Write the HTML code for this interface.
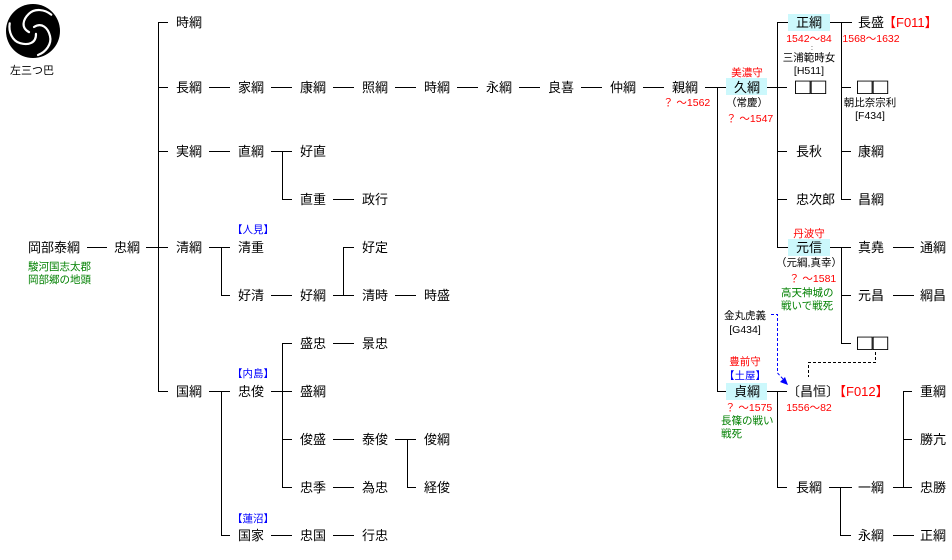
<!DOCTYPE html>
<html><head><meta charset="utf-8">
<style>
html,body{margin:0;padding:0;background:#fff;}
svg{display:block;}
text{font-family:"Liberation Sans","Noto Sans CJK JP",sans-serif;}
.n{font-size:13px;fill:#000;}
.s{font-size:10.5px;}
.r{fill:#f00;}
.g{fill:#008000;}
.b{fill:#00f;}
.k{fill:#000;}
.bx{font-size:14px;}
</style></head><body>
<svg width="952" height="560" viewBox="0 0 952 560" xmlns="http://www.w3.org/2000/svg">
<circle cx="33" cy="31" r="27" fill="#000"/>
<g fill="none" stroke="#fff" stroke-width="2.2" stroke-linecap="round">
<path d="M34,27 C42,22 48,28 50,36 C52,44 46,52 38,55"/>
<path d="M34,27 C42,22 48,28 50,36 C52,44 46,52 38,55" transform="rotate(120 33 31)"/>
<path d="M34,27 C42,22 48,28 50,36 C52,44 46,52 38,55" transform="rotate(240 33 31)"/>
</g>
<text x="10" y="74" class="k" font-size="11">左三つ巴</text>

<rect x="726" y="78" width="41" height="17" fill="#ccf8fc"/>
<rect x="788" y="14" width="42" height="17" fill="#ccf8fc"/>
<rect x="788" y="239" width="42" height="17" fill="#ccf8fc"/>
<rect x="726" y="383" width="41" height="17" fill="#ccf8fc"/>

<g stroke="#000" stroke-width="1" fill="none" shape-rendering="crispEdges">
<line x1="87" y1="247.5" x2="107" y2="247.5"/>
<line x1="146" y1="247.5" x2="158" y2="247.5"/>
<line x1="158.5" y1="22" x2="158.5" y2="391"/>
<line x1="158" y1="22.5" x2="168" y2="22.5"/>
<line x1="158" y1="87.5" x2="168" y2="87.5"/>
<line x1="158" y1="151.5" x2="168" y2="151.5"/>
<line x1="158" y1="247.5" x2="168" y2="247.5"/>
<line x1="158" y1="391.5" x2="168" y2="391.5"/>
<line x1="209" y1="87.5" x2="230" y2="87.5"/>
<line x1="271" y1="87.5" x2="292" y2="87.5"/>
<line x1="333" y1="87.5" x2="354" y2="87.5"/>
<line x1="395" y1="87.5" x2="416" y2="87.5"/>
<line x1="457" y1="87.5" x2="478" y2="87.5"/>
<line x1="519" y1="87.5" x2="540" y2="87.5"/>
<line x1="581" y1="87.5" x2="602" y2="87.5"/>
<line x1="643" y1="87.5" x2="664" y2="87.5"/>
<line x1="209" y1="151.5" x2="230" y2="151.5"/>
<line x1="271" y1="151.5" x2="292" y2="151.5"/>
<line x1="282.5" y1="151" x2="282.5" y2="199"/>
<line x1="282" y1="199.5" x2="292" y2="199.5"/>
<line x1="333" y1="199.5" x2="354" y2="199.5"/>
<line x1="209" y1="247.5" x2="230" y2="247.5"/>
<line x1="221.5" y1="247" x2="221.5" y2="295"/>
<line x1="221" y1="295.5" x2="230" y2="295.5"/>
<line x1="271" y1="295.5" x2="292" y2="295.5"/>
<line x1="333" y1="295.5" x2="354" y2="295.5"/>
<line x1="343.5" y1="247" x2="343.5" y2="295"/>
<line x1="343" y1="247.5" x2="354" y2="247.5"/>
<line x1="395" y1="295.5" x2="416" y2="295.5"/>
<line x1="209" y1="391.5" x2="230" y2="391.5"/>
<line x1="221.5" y1="391" x2="221.5" y2="535"/>
<line x1="221" y1="535.5" x2="230" y2="535.5"/>
<line x1="271" y1="535.5" x2="292" y2="535.5"/>
<line x1="333" y1="535.5" x2="354" y2="535.5"/>
<line x1="271" y1="391.5" x2="292" y2="391.5"/>
<line x1="282.5" y1="343" x2="282.5" y2="487"/>
<line x1="282" y1="343.5" x2="292" y2="343.5"/>
<line x1="282" y1="439.5" x2="292" y2="439.5"/>
<line x1="282" y1="487.5" x2="292" y2="487.5"/>
<line x1="333" y1="343.5" x2="354" y2="343.5"/>
<line x1="333" y1="439.5" x2="354" y2="439.5"/>
<line x1="333" y1="487.5" x2="354" y2="487.5"/>
<line x1="395" y1="439.5" x2="416" y2="439.5"/>
<line x1="407.5" y1="439" x2="407.5" y2="487"/>
<line x1="407" y1="487.5" x2="416" y2="487.5"/>
<line x1="705" y1="87.5" x2="726" y2="87.5"/>
<line x1="717.5" y1="87" x2="717.5" y2="391"/>
<line x1="717" y1="391.5" x2="726" y2="391.5"/>
<line x1="767" y1="87.5" x2="787" y2="87.5"/>
<line x1="777.5" y1="22" x2="777.5" y2="247"/>
<line x1="777" y1="22.5" x2="788" y2="22.5"/>
<line x1="777" y1="151.5" x2="787" y2="151.5"/>
<line x1="777" y1="199.5" x2="787" y2="199.5"/>
<line x1="777" y1="247.5" x2="788" y2="247.5"/>
<line x1="830" y1="22.5" x2="852" y2="22.5"/>
<line x1="841.5" y1="22" x2="841.5" y2="199"/>
<line x1="841" y1="87.5" x2="851" y2="87.5"/>
<line x1="841" y1="151.5" x2="851" y2="151.5"/>
<line x1="841" y1="199.5" x2="851" y2="199.5"/>
<line x1="830" y1="247.5" x2="851" y2="247.5"/>
<line x1="841.5" y1="247" x2="841.5" y2="343"/>
<line x1="841" y1="295.5" x2="851" y2="295.5"/>
<line x1="841" y1="343.5" x2="851" y2="343.5"/>
<line x1="893" y1="247.5" x2="914" y2="247.5"/>
<line x1="893" y1="295.5" x2="914" y2="295.5"/>
<line x1="767" y1="391.5" x2="787" y2="391.5"/>
<line x1="777.5" y1="391" x2="777.5" y2="487"/>
<line x1="777" y1="487.5" x2="787" y2="487.5"/>
<line x1="829" y1="487.5" x2="852" y2="487.5"/>
<line x1="840.5" y1="487" x2="840.5" y2="535"/>
<line x1="840" y1="535.5" x2="851" y2="535.5"/>
<line x1="893" y1="535.5" x2="914" y2="535.5"/>
<line x1="893" y1="487.5" x2="912" y2="487.5"/>
<line x1="903.5" y1="391" x2="903.5" y2="487"/>
<line x1="903" y1="391.5" x2="912" y2="391.5"/>
<line x1="903" y1="439.5" x2="912" y2="439.5"/>
</g>
<path d="M875.5,352 V362.5 H808.5 V377" stroke="#000" stroke-dasharray="3,2" fill="none" shape-rendering="crispEdges"/>
<path d="M771,314.5 H777.5 V373 L784,380" stroke="#00f" stroke-dasharray="3,2" fill="none"/>
<polygon points="788,385 780,382 785,377" fill="#00f"/>

<g class="n">
<text x="28" y="252">岡部泰綱</text>
<text x="114" y="252">忠綱</text>
<text x="176" y="27">時綱</text>
<text x="176" y="92">長綱</text>
<text x="176" y="156">実綱</text>
<text x="176" y="252">清綱</text>
<text x="176" y="396">国綱</text>
<text x="238" y="92">家綱</text>
<text x="300" y="92">康綱</text>
<text x="362" y="92">照綱</text>
<text x="424" y="92">時綱</text>
<text x="486" y="92">永綱</text>
<text x="548" y="92">良喜</text>
<text x="610" y="92">仲綱</text>
<text x="672" y="92">親綱</text>
<text x="238" y="156">直綱</text>
<text x="300" y="156">好直</text>
<text x="300" y="204">直重</text>
<text x="362" y="204">政行</text>
<text x="238" y="252">清重</text>
<text x="238" y="300">好清</text>
<text x="300" y="300">好綱</text>
<text x="362" y="252">好定</text>
<text x="362" y="300">清時</text>
<text x="424" y="300">時盛</text>
<text x="238" y="396">忠俊</text>
<text x="300" y="348">盛忠</text>
<text x="362" y="348">景忠</text>
<text x="300" y="396">盛綱</text>
<text x="300" y="444">俊盛</text>
<text x="362" y="444">泰俊</text>
<text x="424" y="444">俊綱</text>
<text x="300" y="492">忠季</text>
<text x="362" y="492">為忠</text>
<text x="424" y="492">経俊</text>
<text x="238" y="540">国家</text>
<text x="300" y="540">忠国</text>
<text x="362" y="540">行忠</text>
<text x="734" y="92">久綱</text>
<text x="796" y="27">正綱</text>
<text x="858" y="27">長盛</text>
<text x="796" y="156">長秋</text>
<text x="858" y="156">康綱</text>
<text x="796" y="204">忠次郎</text>
<text x="858" y="204">昌綱</text>
<text x="796" y="252">元信</text>
<text x="858" y="252">真堯</text>
<text x="920" y="252">通綱</text>
<text x="858" y="300">元昌</text>
<text x="920" y="300">綱昌</text>
<text x="734" y="396">貞綱</text>
<text x="787" y="396">〔昌恒〕</text>
<text x="920" y="396">重綱</text>
<text x="920" y="444">勝亢</text>
<text x="796" y="492">長綱</text>
<text x="858" y="492">一綱</text>
<text x="920" y="492">忠勝</text>
<text x="858" y="540">永綱</text>
<text x="920" y="540">正綱</text>
</g>
<g class="bx">
<text transform="translate(795,94) scale(1.85,1.6)">□□</text>
<text transform="translate(857,94) scale(1.85,1.6)">□□</text>
<text transform="translate(857,350) scale(1.85,1.6)">□□</text>
</g>
<text x="883" y="27" class="r" font-size="13">【F011】</text>
<text x="833" y="396" class="r" font-size="13">【F012】</text>

<g class="s">
<text x="28" y="270" class="g">駿河国志太郡</text>
<text x="28" y="283" class="g">岡部郷の地頭</text>
<text x="232" y="233" class="b">【人見】</text>
<text x="232" y="377" class="b">【内島】</text>
<text x="232" y="522" class="b">【蓮沼】</text>
<text x="663" y="106" class="r">？ ～1562</text>
<text x="747" y="76" class="r" text-anchor="middle">美濃守</text>
<text x="747" y="106" class="k" text-anchor="middle">（常慶）</text>
<text x="726" y="122" class="r">？ ～1547</text>
<text x="809" y="42" class="r" text-anchor="middle">1542～84</text>
<text x="811" y="50" class="k" font-size="7">:</text>
<text x="809" y="61" class="k" text-anchor="middle">三浦範時女</text>
<text x="809" y="74" class="k" text-anchor="middle">[H511]</text>
<text x="871" y="42" class="r" text-anchor="middle">1568～1632</text>
<text x="870" y="106" class="k" text-anchor="middle">朝比奈宗利</text>
<text x="870" y="119" class="k" text-anchor="middle">[F434]</text>
<text x="809" y="237" class="r" text-anchor="middle">丹波守</text>
<text x="809" y="266" class="k" text-anchor="middle">（元綱,真幸）</text>
<text x="789" y="282" class="r">？ ～1581</text>
<text x="781" y="296" class="g">高天神城の</text>
<text x="781" y="309" class="g">戦いで戦死</text>
<text x="745" y="319" class="k" text-anchor="middle">金丸虎義</text>
<text x="745" y="333" class="k" text-anchor="middle">[G434]</text>
<text x="745" y="365" class="r" text-anchor="middle">豊前守</text>
<text x="745" y="379" class="b" text-anchor="middle">【土屋】</text>
<text x="725" y="411" class="r">？ ～1575</text>
<text x="721" y="424" class="g">長篠の戦い</text>
<text x="721" y="437" class="g">戦死</text>
<text x="809" y="411" class="r" text-anchor="middle">1556～82</text>
</g>
</svg>
</body></html>
